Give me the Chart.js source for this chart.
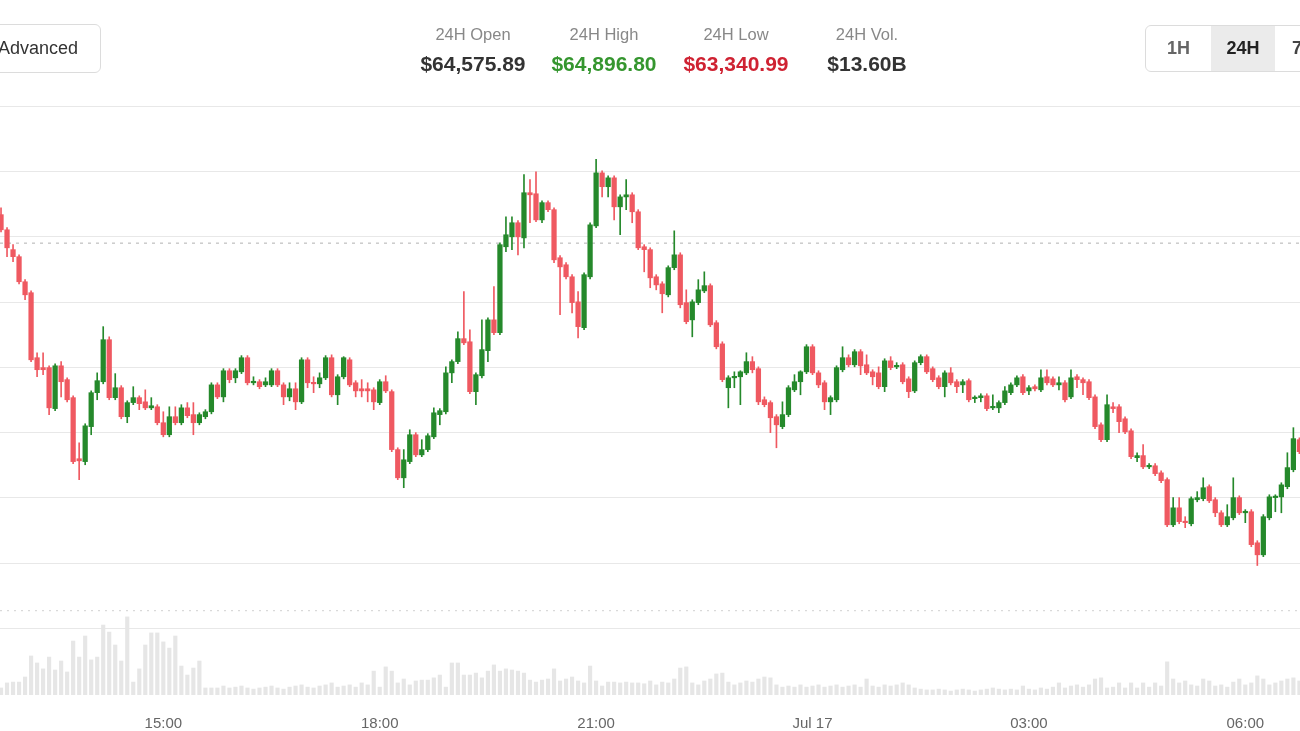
<!DOCTYPE html>
<html>
<head>
<meta charset="utf-8">
<script src="https://cdn.jsdelivr.net/npm/chart.js@4.4.1/dist/chart.umd.min.js"></script>
<style>
  body { margin: 0; background: #fff; font-family: "Liberation Sans", Arial, sans-serif; overflow: hidden; }
  #wrap { position: relative; width: 1300px; height: 731px; overflow: hidden; }
  #chart { position: absolute; left: 0; top: 0; }
  .btn { position: absolute; left: -30px; top: 24px; width: 131px; height: 49px; box-sizing: border-box;
         border: 1px solid #dcdcdc; border-radius: 6px; text-align: right; padding-right: 22px;
         line-height: 47px; font-size: 18px; color: #333; }
  .stat { position: absolute; width: 160px; text-align: center; }
  .stat .lbl { position: absolute; left: 0; width: 100%; top: 24px; font-size: 16.5px; line-height: 20px; color: #888; }
  .stat .val { position: absolute; left: 0; width: 100%; top: 52px; font-size: 21px; line-height: 24px; font-weight: bold; color: #333; }
  .toggle { position: absolute; left: 1145px; top: 25px; width: 200px; height: 47px; box-sizing: border-box;
            border: 1px solid #dcdcdc; border-radius: 6px; overflow: hidden; }
  .toggle div { position: absolute; top: 0; height: 45px; line-height: 45px; text-align: center; font-size: 18px; font-weight: bold; }
</style>
</head>
<body>
<div id="wrap">
  <canvas id="chart" width="1300" height="731"></canvas>
  <div class="btn">Advanced</div>
  <div class="stat" style="left:393px"><div class="lbl">24H Open</div><div class="val">$64,575.89</div></div>
  <div class="stat" style="left:524px"><div class="lbl">24H High</div><div class="val" style="color:#35962f">$64,896.80</div></div>
  <div class="stat" style="left:656px"><div class="lbl">24H Low</div><div class="val" style="color:#cf2232">$63,340.99</div></div>
  <div class="stat" style="left:787px"><div class="lbl">24H Vol.</div><div class="val">$13.60B</div></div>
  <div class="toggle">
    <div style="left:0;width:65px;color:#666">1H</div>
    <div style="left:65px;width:64px;background:#ebebeb;color:#222">24H</div>
    <div style="left:129px;width:70px;color:#444;text-align:left;padding-left:17px;box-sizing:border-box">7D</div>
  </div>
</div>
<script>
// 5-minute candles, 12:45 -> 06:45 (next day)
const open = [
  64685,64627,64551,64524,64428,64386,64137,64099,64099,63942,
  64106,64053,63984,63750,63739,63873,64003,64045,64206,63984,
  64022,63911,63965,63984,63968,63945,63949,63888,63842,63911,
  63888,63945,63919,63888,63911,63930,64033,63987,64087,64060,
  64083,64137,64041,64045,64033,64033,64087,64033,63987,64018,
  63968,64129,64041,64037,64060,64137,63995,64064,64129,64041,
  64018,64018,64014,63965,64045,64007,63785,63677,63739,63842,
  63765,63785,63834,63919,63930,64079,64122,64210,64198,64007,
  64068,64164,64282,64233,64562,64600,64654,64596,64769,64765,
  64665,64731,64704,64520,64493,64447,64351,64252,64447,64642,
  64845,64792,64826,64715,64753,64761,64696,64562,64551,64447,
  64420,64378,64482,64531,64348,64282,64348,64393,64413,64271,
  64190,64022,64060,64064,64079,64122,64095,63976,63965,63911,
  63873,63919,64014,64045,64083,64179,64079,64041,63968,63976,
  64091,64137,64110,64160,64110,64083,64079,64026,64125,64102,
  64110,64056,64010,64118,64141,64095,64060,64026,64079,64045,
  64033,64049,63980,63984,63991,63945,63945,63965,64003,64033,
  64064,64010,64026,64014,64064,64056,64033,64041,63987,64064,
  64053,64045,63987,63880,63823,63949,63949,63903,63857,63754,
  63762,63719,63723,63696,63670,63497,63562,63509,63501,63593,
  63597,63643,63593,63543,63497,63524,63601,63543,63547,63428,
  63382,63524,63601,63604,63643,63708,63823
];
const high = [
  64711,64635,64570,64531,64436,64393,64156,64156,64106,64114,
  64122,64060,63991,63811,63884,64010,64079,64256,64217,64076,
  64030,63972,64026,63991,64014,63984,63957,63930,63949,63949,
  63957,63965,63965,63926,63938,64041,64041,64095,64095,64095,
  64145,64145,64064,64053,64060,64095,64095,64041,64041,64041,
  64137,64137,64064,64079,64145,64148,64072,64141,64137,64049,
  64053,64041,64022,64053,64068,64014,63792,63785,63861,63850,
  63823,63846,63945,63942,64102,64129,64236,64390,64244,64079,
  64282,64290,64409,64577,64677,64677,64662,64838,64819,64849,
  64738,64738,64711,64528,64501,64455,64390,64462,64654,64897,
  64853,64834,64834,64761,64819,64769,64704,64570,64558,64455,
  64428,64489,64623,64539,64397,64359,64436,64466,64420,64279,
  64198,64068,64083,64087,64156,64141,64102,63987,63972,63919,
  63968,64030,64072,64087,64187,64187,64087,64049,63991,64106,
  64179,64148,64168,64168,64148,64091,64102,64133,64141,64118,
  64118,64064,64125,64148,64148,64102,64068,64087,64099,64053,
  64053,64056,63991,63999,63999,63995,63972,64026,64041,64068,
  64072,64030,64033,64091,64091,64064,64064,64049,64091,64072,
  64060,64053,63995,63888,63995,63965,63957,63911,63865,63773,
  63804,63731,63731,63704,63677,63601,63601,63528,63604,63624,
  63677,63650,63601,63551,63574,63677,63608,63555,63555,63436,
  63536,63612,63612,63658,63773,63869,63830
];
const low = [
  64619,64524,64505,64420,64359,64122,64064,64072,63919,63934,
  63987,63968,63731,63670,63727,63842,63976,64037,63976,63976,
  63903,63888,63957,63938,63938,63938,63880,63834,63834,63880,
  63880,63907,63842,63880,63903,63922,63980,63968,64041,64041,
  64076,64033,64033,64018,64026,64026,64026,63957,63972,63938,
  63961,64022,64003,64022,64053,63987,63957,64056,64026,63987,
  63987,63968,63938,63957,64003,63777,63670,63639,63731,63758,
  63758,63777,63827,63880,63922,64041,64114,64187,63999,63957,
  64060,64122,64225,64225,64543,64551,64531,64558,64654,64658,
  64654,64696,64501,64302,64439,64309,64213,64244,64439,64635,
  64753,64753,64665,64608,64704,64654,64551,64466,64405,64397,
  64309,64370,64474,64328,64267,64217,64340,64386,64256,64171,
  64045,63945,64022,63957,64072,64079,63957,63949,63850,63792,
  63865,63911,64007,63995,64076,64072,64022,63938,63919,63968,
  64083,64102,64102,64072,64072,64033,64018,64007,64091,64095,
  64037,63984,64003,64110,64076,64045,64018,63987,64033,64003,
  64003,63968,63965,63968,63934,63938,63926,63957,63995,64026,
  63995,63995,64010,64007,64033,64026,64014,63968,63980,64022,
  63995,63976,63865,63815,63815,63926,63850,63846,63750,63739,
  63712,63712,63685,63658,63490,63490,63501,63486,63493,63585,
  63589,63582,63528,63490,63490,63516,63536,63505,63413,63341,
  63375,63516,63547,63543,63635,63700,63769
];
const close = [
  64627,64558,64524,64428,64378,64129,64091,64091,63945,64106,
  64045,63976,63739,63742,63876,64003,64049,64206,63984,64022,
  63911,63965,63984,63961,63945,63953,63888,63842,63911,63888,
  63945,63915,63888,63919,63930,64033,63987,64087,64053,64087,
  64137,64041,64045,64026,64045,64087,64033,63987,64018,63968,
  64129,64041,64037,64060,64137,63995,64064,64137,64033,64010,
  64010,64010,63968,64045,64010,63785,63677,63746,63842,63765,
  63785,63838,63926,63934,64079,64122,64210,64194,64007,64072,
  64168,64282,64233,64570,64608,64654,64600,64769,64761,64665,
  64731,64704,64512,64485,64447,64348,64256,64455,64646,64845,
  64792,64826,64715,64753,64761,64696,64558,64551,64443,64416,
  64382,64482,64531,64340,64275,64351,64397,64413,64263,64179,
  64053,64060,64064,64083,64122,64091,63968,63957,63907,63880,
  63919,64022,64045,64083,64179,64079,64033,63968,63984,64099,
  64137,64110,64160,64106,64079,64064,64026,64125,64099,64106,
  64045,64007,64118,64141,64083,64053,64026,64079,64041,64026,
  64045,63976,63984,63991,63942,63949,63965,64010,64033,64060,
  64003,64022,64018,64060,64041,64033,64041,63976,64060,64053,
  64041,63984,63873,63823,63957,63942,63892,63853,63758,63762,
  63719,63723,63693,63666,63497,63562,63509,63505,63597,63601,
  63639,63589,63543,63497,63528,63601,63543,63547,63421,63382,
  63528,63604,63604,63650,63716,63827,63777
];
// volume per candle, $M
const volume = [
  25,43,46,46,64,139,114,93,135,89,
  121,82,192,135,210,125,135,249,224,178,
  121,278,46,93,178,221,221,189,167,210,
  103,71,96,121,25,25,25,32,25,28,
  32,25,21,25,28,32,25,21,28,32,
  36,28,25,32,36,43,28,32,36,28,
  43,36,85,28,100,85,43,57,36,50,
  53,53,61,71,28,114,114,71,71,78,
  61,85,107,85,93,89,85,78,53,46,
  53,57,93,50,57,64,50,43,103,50,
  32,46,46,43,46,43,43,40,50,36,
  46,43,57,96,100,43,36,50,57,75,
  78,46,36,43,50,46,57,64,61,36,
  28,32,28,36,28,32,36,28,32,36,
  28,32,36,28,57,32,28,36,32,36,
  43,36,25,21,18,18,21,18,14,18,
  21,18,14,18,21,25,21,18,21,18,
  32,21,18,25,21,28,43,25,32,36,
  28,36,57,61,25,28,43,25,43,25,
  43,28,43,32,118,57,43,50,36,32,
  57,50,32,36,28,46,57,36,43,68,
  57,36,43,50,57,61,50
];

const startTime = [12, 45];
const tickTimes = ['15:00', '18:00', '21:00', '00:00', '03:00', '06:00'];
const tickLabels = ['15:00', '18:00', '21:00', 'Jul 17', '03:00', '06:00'];
const priceGrid = [63100, 63350, 63600, 63850, 64100, 64350, 64600, 64850, 65100];
const open24h = 64575.89;
const volCap = 300;

const green = '#25892b';
const red = '#ef5961';
const font = '"Liberation Sans", Arial, sans-serif';

// candle timestamps
const times = open.map((_, i) => {
    let m = startTime[0] * 60 + startTime[1] + i * 5;
    m = m % 1440;
    return String(Math.floor(m / 60)).padStart(2, '0') + ':' + String(m % 60).padStart(2, '0');
});
const tickPos = tickTimes.map(t => times.indexOf(t));

const xMin = -0.17;
const xMax = 216.1;
const colors = open.map((o, i) => close[i] >= o ? green : red);

new Chart(document.getElementById('chart'), {
    type: 'bar',
    data: {
        datasets: [{
            label: 'wick',
            data: open.map((_, i) => ({ x: i, y: [low[i], high[i]] })),
            backgroundColor: colors,
            barThickness: 1,
            minBarLength: 1,
            grouped: false,
            order: 2
        }, {
            label: 'body',
            data: open.map((o, i) => ({ x: i, y: [o, close[i]] })),
            backgroundColor: colors,
            barThickness: 4.6,
            minBarLength: 1.5,
            grouped: false,
            order: 1
        }, {
            label: 'volume',
            data: volume.map((v, i) => ({ x: i, y: v })),
            yAxisID: 'yVol',
            backgroundColor: '#e6e6e6',
            barThickness: 3.5,
            grouped: false,
            order: 6
        }, {
            type: 'line',
            label: '24H open',
            data: [{ x: xMin, y: open24h }, { x: xMax, y: open24h }],
            borderColor: '#b0b0b0',
            borderWidth: 1,
            borderDash: [3, 5],
            pointRadius: 0,
            order: 5
        }, {
            type: 'line',
            label: 'volume cap',
            yAxisID: 'yVol',
            data: [{ x: xMin, y: volCap }, { x: xMax, y: volCap }],
            borderColor: '#d0d0d0',
            borderWidth: 1,
            borderDash: [2, 5],
            pointRadius: 0,
            order: 5
        }]
    },
    options: {
        responsive: false,
        animation: false,
        devicePixelRatio: 1,
        layout: { padding: { top: 105, left: 0, right: 0, bottom: 0 } },
        plugins: { legend: { display: false }, tooltip: { enabled: false } },
        scales: {
            x: {
                type: 'linear',
                min: xMin,
                max: xMax,
                offset: false,
                grid: { display: false },
                border: { display: false },
                afterBuildTicks: s => { s.ticks = tickPos.map(v => ({ value: v })); },
                afterFit: s => { s.height = 36; },
                ticks: {
                    autoSkip: false,
                    maxRotation: 0,
                    padding: 12,
                    color: '#666',
                    font: { size: 15, family: font },
                    callback: (v, i) => tickLabels[i]
                }
            },
            y: {
                min: 62845,
                max: 65105,
                afterBuildTicks: s => { s.ticks = priceGrid.map(v => ({ value: v })); },
                afterFit: s => { s.width = 0; },
                grid: { color: '#e8e8e8', drawTicks: false },
                border: { display: false },
                ticks: { display: false }
            },
            yVol: {
                display: false,
                min: 0,
                max: 2100
            }
        }
    }
});
</script>
</body>
</html>
